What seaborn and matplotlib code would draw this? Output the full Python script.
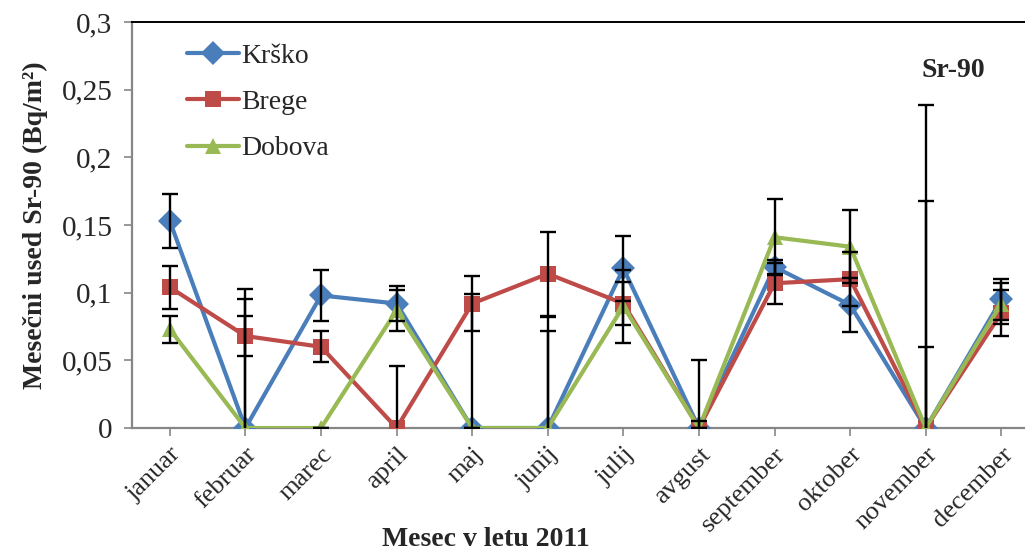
"""Monthly Sr-90 deposition with error bars (Krško, Brege, Dobova)."""

import matplotlib

matplotlib.use("Agg")

import matplotlib.pyplot as plt
import pandas as pd
import seaborn as sns

months = ["januar", "februar", "marec", "april", "maj", "junij",
          "julij", "avgust", "september", "oktober", "november", "december"]
series_names = ["Krško", "Brege", "Dobova"]

krsko = [0.153, 0.0, 0.098, 0.092, 0.0, 0.0, 0.118, 0.0, 0.119, 0.091, 0.0, 0.095]
brege = [0.104, 0.068, 0.060, 0.0, 0.092, 0.114, 0.092, 0.0, 0.107, 0.110, 0.0, 0.085]
dobova = [0.073, 0.0, 0.0, 0.087, 0.0, 0.0, 0.090, 0.0, 0.141, 0.134, 0.0, 0.092]

krsko_err = [0.020, 0.095, 0.019, 0.013, 0.099, 0.082, 0.024, 0.005, 0.005, 0.020, 0.168, 0.015]
brege_err = [0.016, 0.015, 0.0115, 0.046, 0.020, 0.031, 0.016, 0.050, 0.015, 0.020, 0.060, 0.017]
dobova_err = [0.010, 0.103, 0.0, 0.015, 0.0, 0.072, 0.027, 0.0, 0.028, 0.027, 0.239, 0.015]

y_ticks = [0, 0.05, 0.1, 0.15, 0.2, 0.25, 0.3]
y_tick_labels = ["0", "0,05", "0,1", "0,15", "0,2", "0,25", "0,3"]

colors = {"Krško": "#4A7EBB", "Brege": "#BE4B48", "Dobova": "#98B954"}
markers = {"Krško": "D", "Brege": "s", "Dobova": "^"}


def main() -> None:
    values = {"Krško": krsko, "Brege": brege, "Dobova": dobova}
    errors = {"Krško": krsko_err, "Brege": brege_err, "Dobova": dobova_err}

    rows = []
    for name in series_names:
        for i, month in enumerate(months):
            rows.append({"pos": i, "month": month, "postaja": name,
                         "value": values[name][i], "err": errors[name][i]})
    df = pd.DataFrame(rows)

    sns.set_style("white")
    plt.rcParams["font.family"] = ["Liberation Serif", "DejaVu Serif"]

    fig = plt.figure(figsize=(10.25, 5.56), dpi=100)
    ax = fig.add_axes([0.1288, 0.2302, 0.885, 0.730])

    sns.lineplot(
        data=df, x="pos", y="value", hue="postaja", style="postaja",
        hue_order=series_names, style_order=series_names,
        palette=colors, markers=markers, dashes=False,
        linewidth=3.0, markersize=12, markeredgewidth=0,
        ax=ax, zorder=3, legend="auto",
    )

    for name in series_names:
        sub = df[df["postaja"] == name]
        ax.errorbar(sub["pos"], sub["value"], yerr=sub["err"], fmt="none",
                    ecolor="black", elinewidth=1.7, capsize=6, capthick=1.7,
                    zorder=4)

    ax.set_xlim(-0.5, 11.5)
    ax.set_ylim(0, 0.3)
    ax.set_xticks(range(len(months)))
    ax.set_xticklabels(months, rotation=45, ha="right", rotation_mode="anchor",
                       fontsize=19)
    ax.set_yticks(y_ticks)
    ax.set_yticklabels(y_tick_labels, fontsize=21)
    ax.tick_params(axis="both", direction="out", length=6, width=1.2,
                   color="#868686", bottom=True, left=True)
    ax.tick_params(axis="x", pad=5)
    ax.tick_params(axis="y", pad=8)

    for side in ("left", "bottom"):
        ax.spines[side].set_color("#868686")
        ax.spines[side].set_linewidth(1.6)
    ax.spines["top"].set_color("black")
    ax.spines["top"].set_linewidth(1.4)
    ax.spines["right"].set_visible(False)

    ax.set_xlabel("Mesec v letu 2011", fontsize=20, fontweight="bold")
    ax.xaxis.set_label_coords(0.39, -0.245)
    ax.set_ylabel("Mesečni used Sr-90 (Bq/m²)", fontsize=20,
                  fontweight="bold", labelpad=10)

    ax.text(0.905, 0.88, "Sr-90", transform=ax.transAxes, fontsize=20,
            fontweight="bold", ha="center", va="center")

    handles, labels = ax.get_legend_handles_labels()
    ax.legend(handles, labels, loc="upper left", bbox_to_anchor=(0.048, 0.975),
              frameon=False, fontsize=20, handlelength=1.9, handletextpad=0.05,
              labelspacing=0.75, borderaxespad=0)

    fig.savefig("out.png", dpi=100)
    plt.close(fig)


if __name__ == "__main__":
    main()
